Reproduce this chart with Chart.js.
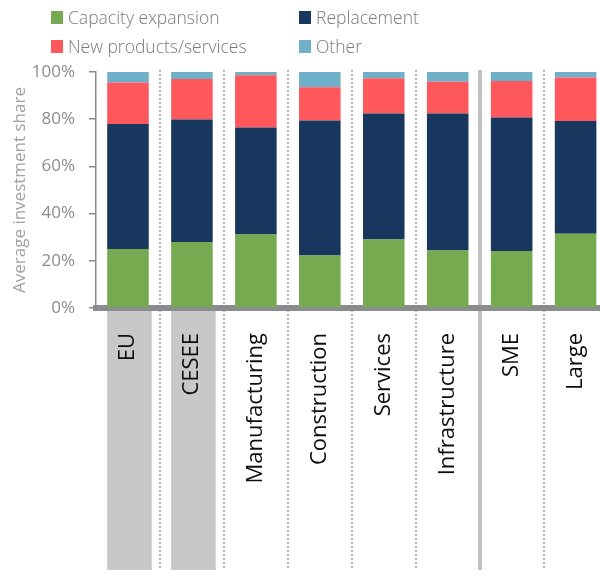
<!DOCTYPE html>
<html><head><meta charset="utf-8">
<script src="https://cdn.jsdelivr.net/npm/chart.js@4/dist/chart.umd.min.js"></script>
<style>
html,body{margin:0;padding:0;overflow:hidden;background:#fff;width:600px;height:583px;}
#wrap{position:absolute;left:0;top:0;width:627px;height:583px;}
#legend{position:absolute;left:0;top:0;width:600px;height:70px;font-family:"Open Sans",sans-serif;font-weight:300;color:#7a7a7a;font-size:17.5px;z-index:2;}
.item{position:absolute;display:flex;align-items:center;white-space:nowrap;height:26px;}
.sw{width:12px;height:13px;margin-right:5px;flex:none;}
</style></head>
<body>
<div id="wrap"><canvas id="c" width="627" height="583"></canvas></div>
<div id="legend"></div>
<script>
const categories = ['EU','CESEE','Manufacturing','Construction','Services','Infrastructure','SME','Large'];
const capacityExpansion = [25.0, 28.0, 31.1, 22.2, 29.0, 24.4, 24.2, 31.5];
const replacement      = [53.0, 51.9, 45.4, 57.2, 53.4, 58.0, 56.5, 47.7];
const newProducts      = [17.6, 17.1, 22.1, 14.1, 15.0, 13.5, 15.5, 18.5];
const other            = [4.4, 3.0, 1.4, 6.5, 2.6, 4.1, 3.8, 2.3];
const seriesNames  = ['Capacity expansion','Replacement','New products/services','Other'];
const seriesColors = ['#75AA50','#18375E','#FF585C','#6FB0C8'];
const yTickValues = [0,20,40,60,80,100];
const yTitle = 'Average investment share';
const highlighted = ['EU','CESEE'];
const solidSeparatorAfter = 'Infrastructure';

// HTML legend (2 columns)
const legendPos = [[51,4],[299,4],[51,33],[299,33]];
const legendEl = document.getElementById('legend');
seriesNames.forEach((n,i)=>{
  const d=document.createElement('div'); d.className='item';
  d.style.left=legendPos[i][0]+'px'; d.style.top=legendPos[i][1]+'px';
  const s=document.createElement('span'); s.className='sw'; s.style.background=seriesColors[i];
  const t=document.createElement('span'); t.textContent=n;
  d.appendChild(s); d.appendChild(t); legendEl.appendChild(d);
});

const barPct = 0.65;
const decor = {
  id:'decor',
  beforeDraw(chart){
    const {ctx, chartArea, scales:{x}} = chart;
    const step = x.width/categories.length;
    const bw = step*barPct;
    const bottomY = 570;
    ctx.save();
    ctx.fillStyle='#c8c8c8';
    categories.forEach((c,i)=>{
      if(highlighted.includes(c)){
        const cx=x.getPixelForValue(i);
        ctx.fillRect(cx-bw/2, chartArea.bottom+3, bw+3, bottomY-chartArea.bottom-3);
      }
    });
    for(let i=0;i<categories.length-1;i++){
      const px=Math.round((x.getPixelForValue(i)+x.getPixelForValue(i+1))/2);
      ctx.beginPath();
      if(categories[i]===solidSeparatorAfter){
        ctx.setLineDash([]); ctx.lineWidth=4; ctx.strokeStyle='#c0c0c0';
      } else {
        ctx.setLineDash([2,2]); ctx.lineWidth=2; ctx.strokeStyle='#b8b8b8';
      }
      ctx.moveTo(px, chartArea.top-2); ctx.lineTo(px, bottomY);
      ctx.stroke();
    }
    ctx.restore();
  }
};

const seriesData = [capacityExpansion, replacement, newProducts, other];
new Chart(document.getElementById('c'), {
  type:'bar',
  data:{
    labels:categories,
    datasets: seriesNames.map((n,i)=>({
      label:n, data:seriesData[i], backgroundColor:seriesColors[i],
      borderWidth:0, barPercentage:barPct, categoryPercentage:1
    }))
  },
  options:{
    responsive:false, animation:false, devicePixelRatio:1,
    layout:{padding:{top:72,right:0,left:0,bottom:0}},
    plugins:{legend:{display:false}, tooltip:{enabled:false}},
    scales:{
      x:{
        stacked:true, z:1,
        grid:{display:false, drawTicks:false},
        border:{display:true, color:'#8a8c8e', width:6},
        ticks:{minRotation:90, maxRotation:90, autoSkip:false, color:'#0d0d0d',
               font:{family:'Open Sans', size:22}, padding:25},
        afterFit(s){ s.height = 275; }
      },
      y:{
        stacked:true, min:0, max:100,
        afterBuildTicks(s){ s.ticks = yTickValues.map(v=>({value:v})); },
        grid:{drawOnChartArea:false, drawTicks:true, tickLength:7, color:'#8a8a8a', lineWidth:1.5},
        border:{display:true, color:'#8a8a8a', width:1.5},
        ticks:{color:'#8c8c8c', font:{family:'Open Sans', size:17}, padding:14, callback:v=>v+'%'},
        title:{display:true, text:yTitle, color:'#a0a0a0', font:{family:'Open Sans', size:17}, padding:{top:10,bottom:0}},
        afterFit(s){ s.width = 96; }
      }
    }
  },
  plugins:[decor]
});
</script>
</body></html>
